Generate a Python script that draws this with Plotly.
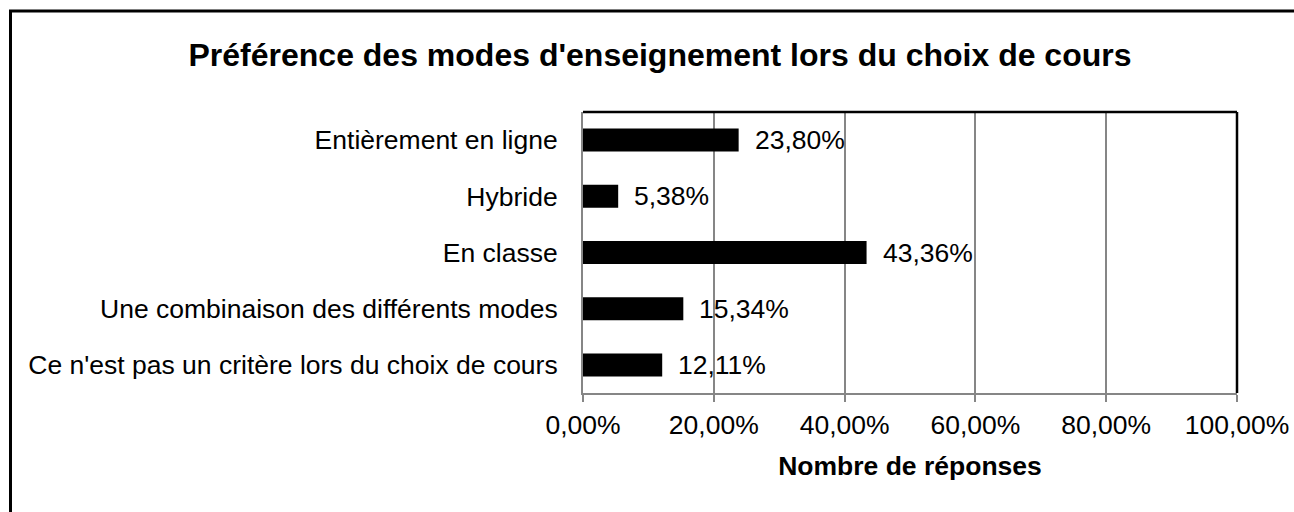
import plotly.graph_objects as go

categories = [
    "Entièrement en ligne",
    "Hybride",
    "En classe",
    "Une combinaison des différents modes",
    "Ce n'est pas un critère lors du choix de cours",
]
values = [23.80, 5.38, 43.36, 15.34, 12.11]
tick_values = [0, 20, 40, 60, 80, 100]
tick_labels = ["0,00%", "20,00%", "40,00%", "60,00%", "80,00%", "100,00%"]

FONT = "Liberation Sans, Arial, sans-serif"
FS = 26.5
W, H = 1294, 512
L, R, T, B = 583, 57, 112, 119
PW, PH = W - L - R, H - T - B

fig = go.Figure()
fig.add_trace(go.Bar(
    x=values, y=categories, orientation="h",
    marker=dict(color="black", line=dict(width=0)),
    hoverinfo="skip",
))

for v, c in zip(values, categories):
    fig.add_annotation(
        x=v, y=c, xref="x", yref="y",
        text=f"{v:.2f}%".replace(".", ","),
        showarrow=False, xanchor="left", yanchor="middle",
        xshift=14, font=dict(family=FONT, size=FS, color="black"),
    )

def px_x(p):
    return (p - L) / PW
def px_y(p):
    return 1 - (p - T) / PH

# outer chart border (extends past right/bottom edges)
fig.add_shape(type="rect", xref="paper", yref="paper",
              x0=px_x(10.5), x1=px_x(1320), y0=px_y(11), y1=px_y(540),
              line=dict(color="black", width=3), layer="below")

# top and right plot-area border in black
fig.add_shape(type="line", xref="x domain", yref="y domain",
              x0=0, x1=1, y0=1, y1=1, line=dict(color="black", width=2.5))
fig.add_shape(type="line", xref="x domain", yref="y domain",
              x0=1, x1=1, y0=0, y1=1, line=dict(color="black", width=2.5))

fig.update_layout(
    width=W, height=H,
    margin=dict(l=L, r=R, t=T, b=B, autoexpand=False),
    paper_bgcolor="white", plot_bgcolor="white",
    showlegend=False,
    bargap=0.59,
    title=dict(
        text="<b>Préférence des modes d'enseignement lors du choix de cours</b>",
        x=660 / W, xanchor="center", y=1 - 55 / H, yanchor="middle",
        font=dict(family=FONT, size=32, color="black"),
    ),
    font=dict(family=FONT, size=FS, color="black"),
)

fig.update_xaxes(
    range=[0, 100], tickvals=tick_values, ticktext=tick_labels,
    automargin=False,
    showgrid=True, gridcolor="#868686", gridwidth=2,
    showline=True, linecolor="#868686", linewidth=2,
    ticks="outside", ticklen=7, tickwidth=2, tickcolor="#868686",
    tickfont=dict(family=FONT, size=FS, color="black"),
    zeroline=False,
    title=dict(text="<b>Nombre de réponses</b>", standoff=18,
               font=dict(family=FONT, size=FS, color="black")),
)
fig.update_yaxes(
    autorange="reversed", automargin=False,
    showline=True, linecolor="#868686", linewidth=2,
    ticks="", showgrid=False,
    ticklabelstandoff=18,
    tickfont=dict(family=FONT, size=FS, color="black"),
)

fig.write_html("out.html", config={"displayModeBar": False},
               post_script="document.body.style.margin='0';")
